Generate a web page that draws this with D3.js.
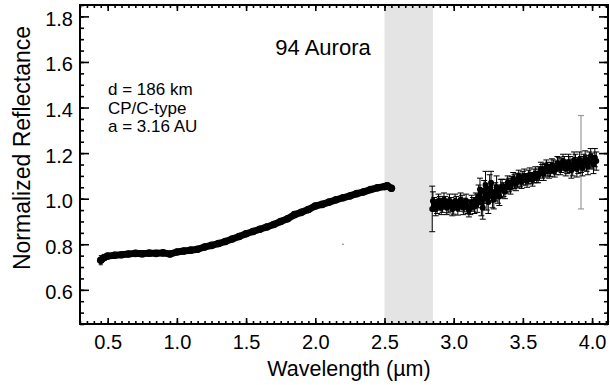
<!DOCTYPE html>
<html>
<head>
<meta charset="utf-8">
<script src="https://cdn.jsdelivr.net/npm/d3@7"></script>
<style>
  html, body { margin: 0; padding: 0; background: #fff; }
  svg text { font-family: "Liberation Sans", Arial, Helvetica, sans-serif; fill: #000; }
</style>
</head>
<body>
<svg id="chart" width="610" height="385"></svg>
<script>
// ---- Data ----
const title = "94 Aurora";
const notes = ["d = 186 km", "CP/C-type", "a = 3.16 AU"];
const xLabel = "Wavelength (\u00b5m)";
const yLabel = "Normalized Reflectance";
const xTicks = [0.5, 1.0, 1.5, 2.0, 2.5, 3.0, 3.5, 4.0];
const yTicks = [0.6, 0.8, 1.0, 1.2, 1.4, 1.6, 1.8];
const gapBand = [2.5, 2.85];

// visible/near-IR segment
const wl1 = [0.45,0.475,0.50,0.55,0.60,0.65,0.70,0.75,0.80,0.85,0.90,0.95,1.00,1.05,1.10,1.15,1.20,1.25,1.30,1.35,1.40,1.45,1.50,1.55,1.60,1.65,1.70,1.75,1.80,1.85,1.90,1.95,2.00,2.05,2.10,2.15,2.20,2.25,2.30,2.35,2.40,2.45,2.50,2.52,2.55];
const refl1 = [0.730,0.742,0.748,0.752,0.754,0.757,0.760,0.758,0.761,0.760,0.762,0.757,0.766,0.770,0.774,0.778,0.788,0.795,0.803,0.812,0.823,0.834,0.846,0.856,0.866,0.876,0.887,0.900,0.912,0.930,0.940,0.952,0.968,0.975,0.985,0.995,1.004,1.012,1.022,1.030,1.040,1.048,1.053,1.056,1.046];
const err1 = [0.02,0.012,0.01,0.008,0.008,0.008,0.008,0.008,0.008,0.008,0.008,0.008,0.008,0.008,0.008,0.008,0.008,0.008,0.008,0.008,0.008,0.008,0.008,0.008,0.008,0.008,0.008,0.008,0.008,0.01,0.01,0.01,0.01,0.01,0.01,0.01,0.01,0.01,0.01,0.01,0.01,0.01,0.012,0.012,0.012];

// 3-micron segment
const wl2 = [2.845,2.85,2.86,2.87,2.88,2.89,2.90,2.91,2.92,2.93,2.94,2.95,2.96,2.97,2.98,2.99,3.00,3.01,3.02,3.03,3.04,3.05,3.06,3.07,3.08,3.09,3.10,3.11,3.12,3.13,3.14,3.15,3.16,3.17,3.18,3.19,3.20,3.21,3.22,3.23,3.24,3.25,3.26,3.27,3.28,3.29,3.30,3.31,3.32,3.33,3.34,3.35,3.36,3.37,3.38,3.39,3.40,3.41,3.42,3.43,3.44,3.45,3.46,3.47,3.48,3.49,3.50,3.51,3.52,3.53,3.54,3.55,3.56,3.57,3.58,3.59,3.60,3.61,3.62,3.63,3.64,3.65,3.66,3.67,3.68,3.69,3.70,3.71,3.72,3.73,3.74,3.75,3.76,3.77,3.78,3.79,3.80,3.81,3.82,3.83,3.84,3.85,3.86,3.87,3.88,3.89,3.90,3.91,3.92,3.93,3.94,3.95,3.96,3.97,3.98,3.99,4.00,4.01,4.02,4.03];
const refl2 = [0.955,0.990,0.975,0.955,0.965,0.990,0.980,0.960,0.970,0.995,0.985,0.960,0.968,0.990,0.975,0.955,0.962,0.990,0.980,0.958,0.970,0.995,0.985,0.960,0.972,0.990,0.965,0.950,0.960,0.985,0.975,0.965,0.995,0.980,1.010,1.040,0.985,0.960,1.030,1.060,1.000,0.985,1.045,1.070,1.010,0.995,1.030,1.050,1.020,1.010,1.045,1.055,1.040,1.030,1.055,1.070,1.060,1.050,1.068,1.085,1.075,1.065,1.080,1.095,1.082,1.075,1.090,1.100,1.085,1.080,1.095,1.105,1.090,1.085,1.100,1.110,1.095,1.100,1.110,1.130,1.120,1.110,1.125,1.140,1.130,1.120,1.128,1.145,1.140,1.125,1.135,1.155,1.150,1.135,1.145,1.165,1.155,1.130,1.140,1.160,1.150,1.125,1.135,1.170,1.160,1.130,1.145,1.170,1.150,1.135,1.160,1.175,1.155,1.140,1.170,1.185,1.165,1.150,1.180,1.165];
const err2 = [0.10,0.04,0.03,0.03,0.03,0.03,0.03,0.03,0.03,0.03,0.025,0.03,0.03,0.03,0.03,0.03,0.03,0.03,0.03,0.03,0.025,0.03,0.03,0.03,0.03,0.03,0.03,0.03,0.03,0.03,0.03,0.03,0.03,0.04,0.05,0.05,0.06,0.05,0.05,0.06,0.05,0.05,0.06,0.05,0.05,0.04,0.04,0.05,0.04,0.04,0.04,0.03,0.03,0.03,0.03,0.03,0.03,0.03,0.03,0.03,0.03,0.03,0.03,0.03,0.03,0.03,0.03,0.03,0.025,0.03,0.03,0.03,0.025,0.03,0.03,0.03,0.025,0.03,0.03,0.03,0.03,0.03,0.03,0.03,0.03,0.03,0.03,0.03,0.03,0.03,0.03,0.03,0.03,0.03,0.03,0.03,0.03,0.03,0.03,0.035,0.035,0.035,0.035,0.035,0.035,0.035,0.035,0.035,0.035,0.035,0.035,0.035,0.035,0.035,0.035,0.035,0.035,0.04,0.04,0.04];

// single gray outlier error bar
const outWl = [3.92];
const outRefl = [1.16];
const outErr = [0.205];

// stray faint point
const strayWl = [2.2];
const strayRefl = [0.80];

// ---- Layout ----
const svg = d3.select("#chart");
const L = 80, R = 608, T = 5, B = 324;
const x = d3.scaleLinear().domain([0.3, 4.115]).range([L, R]);
const y = d3.scaleLinear().domain([0.45, 1.85]).range([B, T]);

// gap band
svg.append("rect")
  .attr("x", x(gapBand[0])).attr("y", T)
  .attr("width", x(gapBand[1]) - x(gapBand[0])).attr("height", B - T)
  .attr("fill", "#e4e4e4");

const seg1 = wl1.map((w, i) => ({w, r: refl1[i], e: err1[i]}));
const seg2 = wl2.map((w, i) => ({w, r: refl2[i], e: err2[i]}));

const data = svg.append("g");

// outlier gray error bar
outWl.forEach((w, i) => {
  const g = data.append("g").attr("stroke", "#9a9a9a").attr("stroke-width", 1.2);
  g.append("line").attr("x1", x(w)).attr("x2", x(w)).attr("y1", y(outRefl[i] - outErr[i])).attr("y2", y(outRefl[i] + outErr[i]));
  g.append("line").attr("x1", x(w) - 3).attr("x2", x(w) + 3).attr("y1", y(outRefl[i] - outErr[i])).attr("y2", y(outRefl[i] - outErr[i]));
  g.append("line").attr("x1", x(w) - 3).attr("x2", x(w) + 3).attr("y1", y(outRefl[i] + outErr[i])).attr("y2", y(outRefl[i] + outErr[i]));
});

function drawErr(seg, capW) {
  const g = data.append("g").attr("stroke", "#000").attr("stroke-width", 1);
  seg.forEach(d => {
    g.append("line").attr("x1", x(d.w)).attr("x2", x(d.w)).attr("y1", y(d.r - d.e)).attr("y2", y(d.r + d.e));
    g.append("line").attr("x1", x(d.w) - capW).attr("x2", x(d.w) + capW).attr("y1", y(d.r - d.e)).attr("y2", y(d.r - d.e));
    g.append("line").attr("x1", x(d.w) - capW).attr("x2", x(d.w) + capW).attr("y1", y(d.r + d.e)).attr("y2", y(d.r + d.e));
  });
}
drawErr(seg1, 2);
drawErr(seg2, 3);

const line = d3.line().x(d => x(d.w)).y(d => y(d.r));
data.append("path").datum(seg1).attr("d", line)
  .attr("fill", "none").attr("stroke", "#000").attr("stroke-width", 7)
  .attr("stroke-linejoin", "round").attr("stroke-linecap", "round");
data.append("path").datum(seg2).attr("d", line)
  .attr("fill", "none").attr("stroke", "#000").attr("stroke-width", 3)
  .attr("stroke-linejoin", "round").attr("stroke-linecap", "round");
data.selectAll("circle.s1").data(seg1).enter().append("circle")
  .attr("cx", d => x(d.w)).attr("cy", d => y(d.r)).attr("r", 3.8).attr("fill", "#000");
data.selectAll("circle.s2").data(seg2).enter().append("circle")
  .attr("cx", d => x(d.w)).attr("cy", d => y(d.r)).attr("r", 3).attr("fill", "#000");
strayWl.forEach((w, i) => {
  data.append("circle").attr("cx", x(w)).attr("cy", y(strayRefl[i])).attr("r", 0.8).attr("fill", "#666");
});

// ---- Axes ----
const xMinor = d3.range(0.3, 4.11, 0.05).map(v => +v.toFixed(2));
const yMinor = d3.range(0.45, 1.851, 0.05).map(v => +v.toFixed(2));

function styleAxis(g) {
  g.select(".domain").remove();
  g.selectAll(".tick line").attr("stroke", "#000").attr("stroke-width", 1.6);
}

// bottom
svg.append("g").attr("transform", `translate(0,${B})`)
  .call(d3.axisBottom(x).tickValues(xMinor).tickSize(-3).tickFormat("")).call(styleAxis);
svg.append("g").attr("transform", `translate(0,${B})`)
  .call(d3.axisBottom(x).tickValues(xTicks).tickSize(-6).tickPadding(11).tickFormat(d3.format(".1f")))
  .call(styleAxis)
  .selectAll("text").attr("font-size", 20).attr("dy", "0.72em");
// top
svg.append("g").attr("transform", `translate(0,${T})`)
  .call(d3.axisTop(x).tickValues(xMinor).tickSize(-3).tickFormat("")).call(styleAxis);
svg.append("g").attr("transform", `translate(0,${T})`)
  .call(d3.axisTop(x).tickValues(xTicks).tickSize(-6).tickFormat("")).call(styleAxis);
// left
svg.append("g").attr("transform", `translate(${L},0)`)
  .call(d3.axisLeft(y).tickValues(yMinor).tickSize(-4).tickFormat("")).call(styleAxis);
svg.append("g").attr("transform", `translate(${L},0)`)
  .call(d3.axisLeft(y).tickValues(yTicks).tickSize(-9).tickPadding(7).tickFormat(d3.format(".1f")))
  .call(styleAxis)
  .selectAll("text").attr("font-size", 20).attr("dy", "0.45em");
// right
svg.append("g").attr("transform", `translate(${R},0)`)
  .call(d3.axisRight(y).tickValues(yMinor).tickSize(-4).tickFormat("")).call(styleAxis);
svg.append("g").attr("transform", `translate(${R},0)`)
  .call(d3.axisRight(y).tickValues(yTicks).tickSize(-9).tickFormat("")).call(styleAxis);

// frame
svg.append("rect").attr("x", L).attr("y", T).attr("width", R - L).attr("height", B - T)
  .attr("fill", "none").attr("stroke", "#000").attr("stroke-width", 2);

// ---- Texts ----
svg.append("text").attr("x", 349).attr("y", 376)
  .attr("text-anchor", "middle").attr("font-size", 21.5).text(xLabel);
svg.append("text").attr("transform", `translate(30,148) rotate(-90)`)
  .attr("text-anchor", "middle").attr("font-size", 23).text(yLabel);
svg.append("text").attr("x", 323).attr("y", 55)
  .attr("text-anchor", "middle").attr("font-size", 22).text(title);
notes.forEach((t, i) => {
  svg.append("text").attr("x", 108).attr("y", 95 + i * 18.5).attr("font-size", 17).text(t);
});
</script>
</body>
</html>
